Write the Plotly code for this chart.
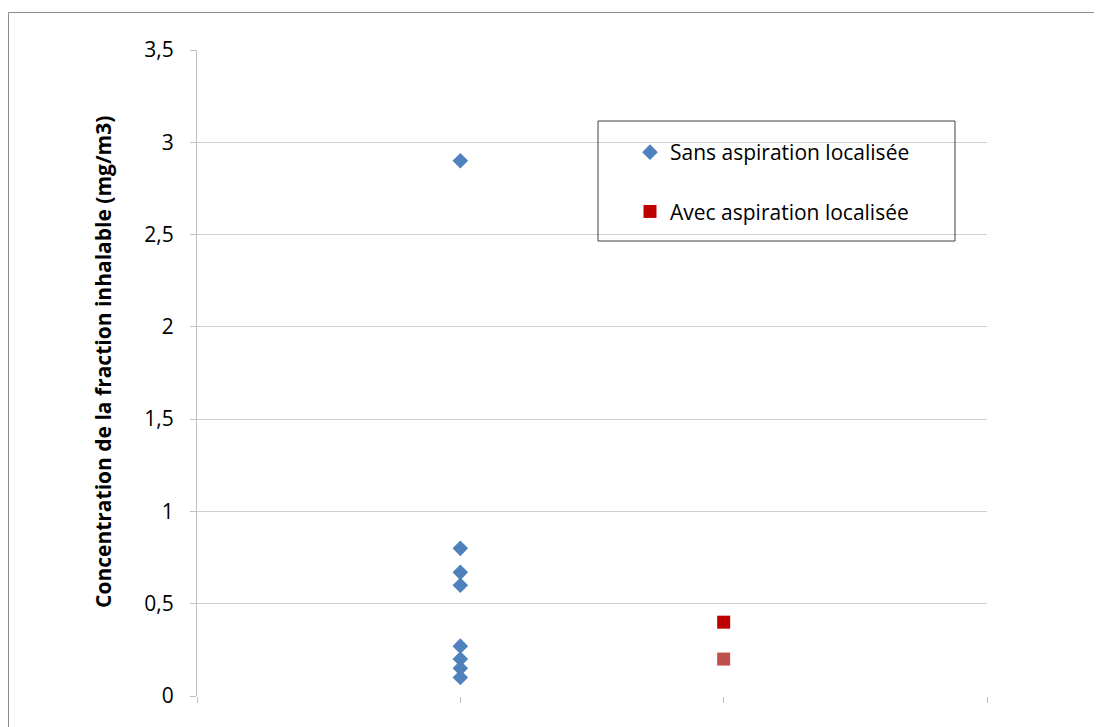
import plotly.graph_objects as go

# Data
sans_x = [1, 1, 1, 1, 1, 1, 1, 1]
sans_y = [2.9, 0.8, 0.67, 0.6, 0.27, 0.2, 0.15, 0.1]
avec_x = [2, 2]
avec_y = [0.4, 0.2]
avec_colors = ["#C00000", "#C0504D"]
y_ticks = [0, 0.5, 1, 1.5, 2, 2.5, 3, 3.5]
x_ticks = [0, 1, 2, 3]
y_title = "Concentration de la fraction inhalable (mg/m3)"

FONT = "Open Sans"
FS = 21
OFF = 8  # page body margin
W, H = 1102 - OFF, 727 - OFF
L, T = 197 - OFF, 50 - OFF
R = W - (987 - OFF)
B = H - (696 - OFF)
pw, ph = W - L - R, H - T - B

def px(x):
    return (x - OFF - L) / pw

def py(y):
    return (H - B - (y - OFF)) / ph

fig = go.Figure()
fig.add_trace(go.Scatter(
    x=sans_x, y=sans_y, mode="markers", name="Sans aspiration localisée",
    legendgroup="a",
    marker=dict(symbol="diamond", size=12, color="#4F81BD", line=dict(width=0)),
))
fig.add_trace(go.Scatter(
    x=avec_x, y=avec_y, mode="markers", name="Avec aspiration localisée",
    legendgroup="b",
    marker=dict(symbol="square", size=13, color=avec_colors, line=dict(width=0)),
))

fig.update_layout(
    width=W, height=H,
    margin=dict(l=L, r=R, t=T, b=B, pad=0),
    paper_bgcolor="white", plot_bgcolor="white",
    separators=", ",
    font=dict(family=FONT, size=FS, color="#000000"),
    showlegend=True,
    legend=dict(
        x=px(630), y=py(132), xanchor="left", yanchor="top",
        bgcolor="rgba(0,0,0,0)", borderwidth=0,
        traceorder="grouped", tracegroupgap=29,
        font=dict(family=FONT, size=FS, color="#000000"),
        itemwidth=30,
    ),
    xaxis=dict(
        range=[0, 3], tickvals=x_ticks, showticklabels=False,
        showgrid=False, zeroline=False,
        ticks="outside", ticklen=6, tickcolor="#BFBFBF",
        showline=False,
    ),
    yaxis=dict(
        range=[0, 3.5], tickvals=y_ticks,
        ticktext=[("%g" % v).replace(".", ",") for v in y_ticks],
        showgrid=True, gridcolor="#D0D0D0", gridwidth=1,
        zeroline=False,
        showline=True, linecolor="#BFBFBF", linewidth=1,
        ticks="outside", ticklen=6, tickcolor="#BFBFBF",
        ticklabelstandoff=12,
        tickfont=dict(family=FONT, size=FS, color="#000000"),
    ),
    annotations=[
        dict(text="<b>" + y_title + "</b>", textangle=-90,
             xref="paper", yref="paper", x=px(103), y=py(362),
             xanchor="center", yanchor="middle", showarrow=False,
             font=dict(family=FONT, size=FS, color="#000000")),
    ],
    shapes=[
        # legend box
        dict(type="rect", xref="paper", yref="paper",
             x0=px(598), x1=px(955), y0=py(241), y1=py(121),
             line=dict(color="#404040", width=1), fillcolor="rgba(0,0,0,0)", layer="above"),
        # outer chart border
        dict(type="rect", xref="paper", yref="paper",
             x0=px(OFF + 0.5), x1=px(1120), y0=py(745), y1=py(12.5),
             line=dict(color="#8C8C8C", width=1), fillcolor="rgba(0,0,0,0)"),
    ],
)

fig.write_html("out.html")
